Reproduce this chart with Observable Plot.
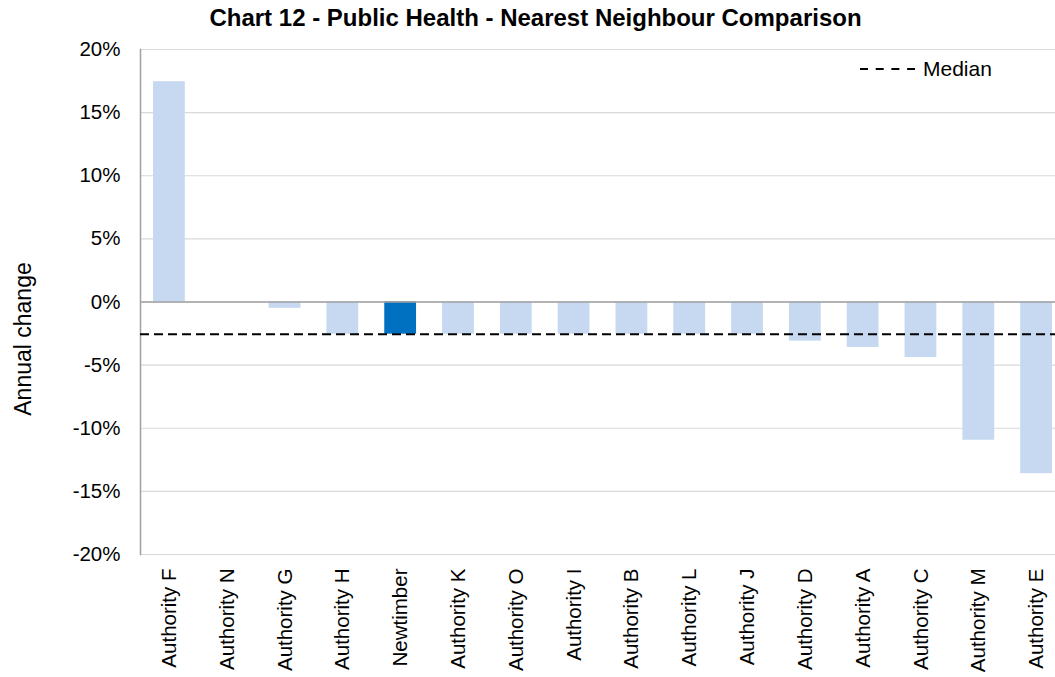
<!DOCTYPE html>
<html>
<head>
<meta charset="utf-8">
<script src="https://cdn.jsdelivr.net/npm/d3@7"></script>
<script src="https://cdn.jsdelivr.net/npm/@observablehq/plot@0.6"></script>
<style>
  html, body { margin: 0; padding: 0; background: #fff; }
  body { font-family: "Liberation Sans", Arial, sans-serif; color: #000; }
  #wrap { position: relative; width: 1055px; height: 677px; overflow: hidden; }
  #title { position: absolute; left: 0; top: 6px; width: 1071px; text-align: center; font-weight: bold; font-size: 24px; line-height: 24px; white-space: nowrap; }
  #ylabel { position: absolute; left: 23px; top: 339px; transform: translate(-50%, -50%) rotate(-90deg); font-size: 23px; line-height: 23px; white-space: nowrap; }
  #legend { position: absolute; left: 860px; top: 58px; height: 22px; display: flex; align-items: center; font-size: 21px; line-height: 22px; white-space: nowrap; }
  #legend svg { display: block; margin-right: 8px; }
  #chart svg { display: block; }
</style>
</head>
<body>
<div id="wrap">
  <div id="chart"></div>
  <div id="title">Chart 12 - Public Health - Nearest Neighbour Comparison</div>
  <div id="ylabel">Annual change</div>
  <div id="legend"><svg width="55" height="4"><line x1="0" y1="2" x2="55" y2="2" stroke="#000" stroke-width="2" stroke-dasharray="8,7.7"></line></svg><span>Median</span></div>
</div>
<script>
const categories = ["Authority F", "Authority N", "Authority G", "Authority H", "Newtimber", "Authority K", "Authority O", "Authority I", "Authority B", "Authority L", "Authority J", "Authority D", "Authority A", "Authority C", "Authority M", "Authority E"];
const values = [17.45, 0, -0.5, -2.55, -2.55, -2.55, -2.55, -2.55, -2.55, -2.55, -2.55, -3.1, -3.6, -4.4, -10.95, -13.6];
const highlight = "Newtimber";
const yTicks = [20, 15, 10, 5, 0, -5, -10, -15, -20];

const data = categories.map((name, i) => ({name, value: values[i]}));
const median = d3.median(values);

const chart = Plot.plot({
  width: 1055,
  height: 677,
  marginTop: 49,
  marginBottom: 123,
  marginLeft: 140,
  marginRight: -10,
  style: {fontFamily: "'Liberation Sans', Arial, sans-serif", fontSize: "20.5px", color: "#000", background: "#fff", overflow: "hidden"},
  x: {domain: categories, paddingInner: 0.45, paddingOuter: 0.225, round: false, label: null, tickSize: 0, tickPadding: 14, tickRotate: -90},
  y: {domain: [-20, 20], ticks: yTicks, tickFormat: d => d + "%", label: null, tickSize: 0, tickPadding: 20},
  marks: [
    Plot.gridY(yTicks, {stroke: "#d9d9d9", strokeOpacity: 1, strokeWidth: 1.2}),
    Plot.barY(data.filter(d => d.name !== highlight), {x: "name", y: "value", fill: "#C6D9F1"}),
    Plot.barY(data.filter(d => d.name === highlight), {x: "name", y: "value", fill: "#0070C0"}),
    Plot.ruleY([0], {stroke: "#a0a0a0", strokeWidth: 1.5}),
    Plot.frame({anchor: "left", stroke: "#a0a0a0", strokeWidth: 1.5}),
    Plot.ruleY([median], {stroke: "#000", strokeWidth: 2, strokeDasharray: "9,5"})
  ]
});
document.getElementById("chart").appendChild(chart);
</script>
</body>
</html>
